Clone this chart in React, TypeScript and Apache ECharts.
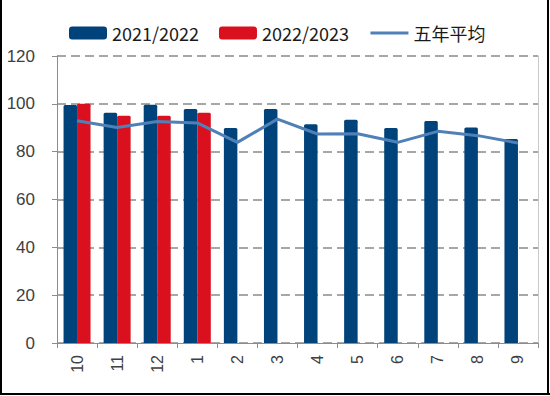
import React, { useEffect, useRef } from "react";
import * as echarts from "echarts";

const categories = ["10", "11", "12", "1", "2", "3", "4", "5", "6", "7", "8", "9"];
const series2122 = [99.5, 96.3, 99.6, 97.8, 89.9, 97.8, 91.5, 93.3, 89.9, 92.8, 90.1, 85.3];
const series2223: (number | null)[] = [100, 95, 95, 96.3, null, null, null, null, null, null, null, null];
const fiveYearAvg = [92.9, 90.1, 92.6, 92.0, 83.9, 93.6, 87.4, 87.5, 83.9, 88.5, 86.7, 83.6];
const seriesNames = ["2021/2022", "2022/2023", "五年平均"];
const yTicks = { min: 0, max: 120, interval: 20 };

export default function App() {
  const ref = useRef<HTMLDivElement>(null);
  useEffect(() => {
    document.body.style.margin = "0";
    const chart = echarts.init(ref.current!, null, { renderer: "svg" });
    const axisGray = "#8c8c8c";
    chart.setOption({
      animation: false,
      backgroundColor: "#ffffff",
      grid: { left: 57, right: 12, top: 56, bottom: 53, containLabel: false },
      legend: {
        left: 64,
        top: 19,
        itemWidth: 38,
        itemHeight: 13,
        itemGap: 20,
        data: [
          { name: seriesNames[0] },
          { name: seriesNames[1] },
          {
            name: seriesNames[2],
            itemStyle: { opacity: 0, borderWidth: 0 },
            lineStyle: { width: 3, color: "#5080b8" },
          },
        ],
        textStyle: {
          fontFamily: "Noto Sans CJK SC",
          fontSize: 18,
          color: "#1a1a1a",
          width: 95,
        },
      },
      xAxis: {
        type: "category",
        data: categories,
        axisLine: { lineStyle: { color: axisGray, width: 1 } },
        axisTick: { show: true, length: 5, lineStyle: { color: axisGray } },
        axisLabel: {
          rotate: 90,
          margin: 12,
          fontFamily: "Liberation Sans",
          fontSize: 16,
          color: "#404040",
        },
      },
      yAxis: [
        {
          type: "value",
          min: yTicks.min,
          max: yTicks.max,
          interval: yTicks.interval,
          axisLine: { show: true, lineStyle: { color: axisGray, width: 1 } },
          axisTick: { show: true, length: 5, lineStyle: { color: axisGray } },
          axisLabel: {
            margin: 22,
            fontFamily: "Liberation Sans",
            fontSize: 17,
            color: "#404040",
          },
          splitLine: {
            show: true,
            lineStyle: { color: "#8a8a8a", width: 1.5, type: [9, 5] },
          },
        },
        {
          type: "value",
          position: "right",
          min: yTicks.min,
          max: yTicks.max,
          interval: yTicks.interval,
          axisLine: { show: true, lineStyle: { color: "#c8c8c8", width: 1 } },
          axisTick: { show: false },
          axisLabel: { show: false },
          splitLine: { show: false },
        },
      ],
      series: [
        {
          name: seriesNames[0],
          type: "bar",
          data: series2122,
          barWidth: 13.5,
          barGap: "0%",
          itemStyle: { color: "#00437a", borderRadius: [1.5, 1.5, 0, 0] },
        },
        {
          name: seriesNames[1],
          type: "bar",
          data: series2223,
          barWidth: 13.5,
          barGap: "0%",
          itemStyle: { color: "#db101f", borderRadius: [1.5, 1.5, 0, 0] },
        },
        {
          name: seriesNames[2],
          type: "line",
          data: fiveYearAvg,
          symbol: "none",
          z: 5,
          lineStyle: { color: "#5080b8", width: 3 },
          itemStyle: { color: "#5080b8" },
        },
      ],
      graphic: [
        { type: "line", shape: { x1: 1, y1: 0, x2: 1, y2: 395 }, style: { stroke: "#000", lineWidth: 2 } },
        { type: "line", shape: { x1: 548, y1: 0, x2: 548, y2: 395 }, style: { stroke: "#000", lineWidth: 2 } },
        { type: "line", shape: { x1: 0, y1: 394, x2: 550, y2: 394 }, style: { stroke: "#000", lineWidth: 2 } },
      ],
    });
    return () => chart.dispose();
  }, []);
  return (
    <div
      ref={ref}
      style={{ position: "absolute", left: 0, top: 0, width: 550, height: 396 }}
    />
  );
}
